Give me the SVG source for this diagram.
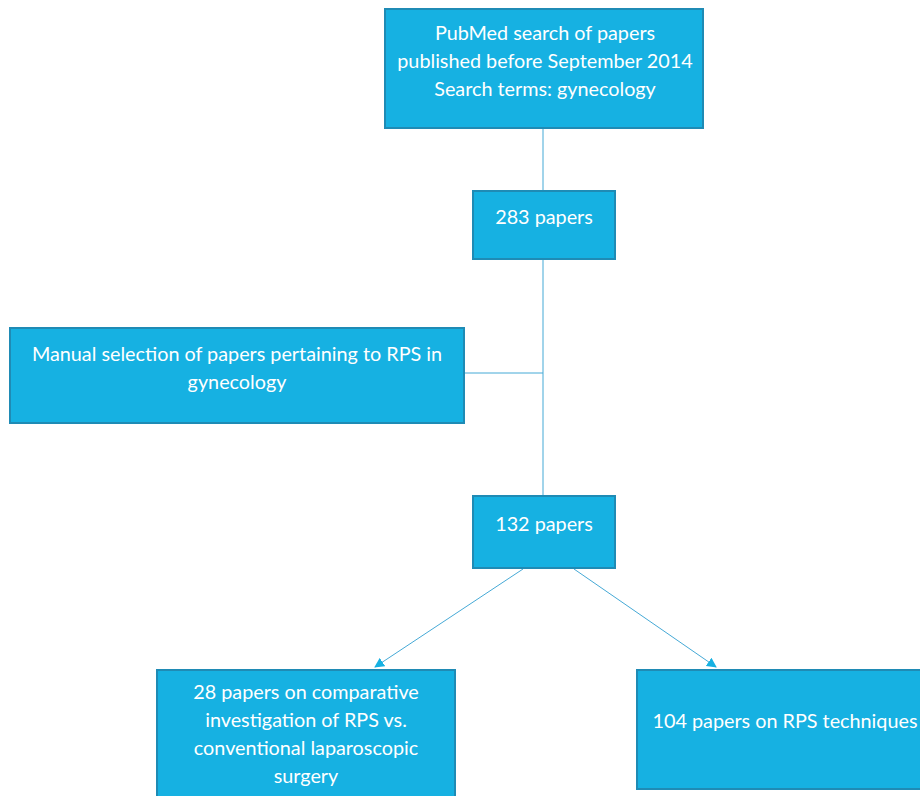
<svg xmlns="http://www.w3.org/2000/svg" width="920" height="796" viewBox="0 0 920 796">
<defs>
<style>
.box{fill:#16b1e2;stroke:#1f8bb5;stroke-width:2}
.t{fill:#ffffff;font-family:Lato,"Open Sans","Liberation Sans",sans-serif;font-size:19.8px;text-anchor:middle}
.c{stroke:#45a9d6;stroke-width:1;fill:none}
</style>
<marker id="ah" viewBox="0 0 10 10" refX="9" refY="5" markerWidth="10" markerHeight="10" markerUnits="userSpaceOnUse" orient="auto">
<path d="M0,0 L10,5 L0,10 z" fill="#16b1e2"/>
</marker>
</defs>
<rect width="920" height="796" fill="#ffffff"/>
<g id="connectors">
<line class="c" x1="543" y1="128" x2="543" y2="191"/>
<line class="c" x1="543" y1="259" x2="543" y2="496"/>
<line class="c" x1="464" y1="373" x2="543" y2="373"/>
<line class="c" x1="523" y1="569" x2="375" y2="667" marker-end="url(#ah)"/>
<line class="c" x1="574" y1="569" x2="716" y2="667" marker-end="url(#ah)"/>
</g>
<g id="n1">
<rect class="box" x="385" y="9" width="318" height="119"/>
<text class="t" x="545" y="40">PubMed search of papers</text>
<text class="t" x="545" y="68">published before September 2014</text>
<text class="t" x="545" y="96">Search terms: gynecology</text>
</g>
<g id="n2">
<rect class="box" x="473" y="191" width="142" height="68"/>
<text class="t" x="544" y="224">283 papers</text>
</g>
<g id="n3">
<rect class="box" x="10" y="328" width="454" height="95"/>
<text class="t" x="237" y="361">Manual selection of papers pertaining to RPS in</text>
<text class="t" x="237" y="389">gynecology</text>
</g>
<g id="n4">
<rect class="box" x="473" y="496" width="142" height="72"/>
<text class="t" x="544" y="531">132 papers</text>
</g>
<g id="n5">
<rect class="box" x="157" y="670" width="298" height="130"/>
<text class="t" x="306" y="699">28 papers on comparative</text>
<text class="t" x="306" y="727">investigation of RPS vs.</text>
<text class="t" x="306" y="755">conventional laparoscopic</text>
<text class="t" x="306" y="783">surgery</text>
</g>
<g id="n6">
<rect class="box" x="637" y="670" width="290" height="119"/>
<text class="t" x="785" y="728">104 papers on RPS techniques</text>
</g>
</svg>
